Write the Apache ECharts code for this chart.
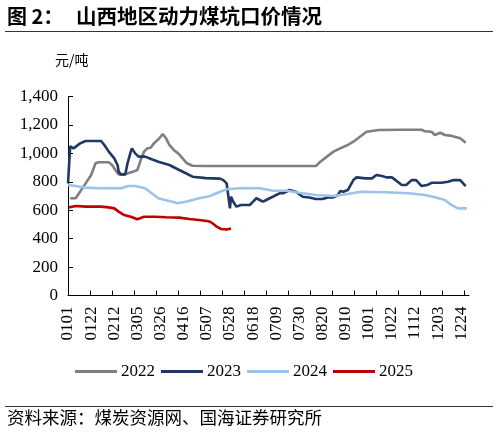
<!DOCTYPE html>
<html>
<head>
<meta charset="utf-8">
<script src="https://cdn.jsdelivr.net/npm/echarts@6/dist/echarts.min.js"></script>
<style>
  html, body { margin: 0; padding: 0; background: #fff; }
  #chart { width: 499px; height: 434px; }
</style>
</head>
<body>
<div id="chart"></div>
<script>
// daily categories MMDD (non-leap year)
let days = [];
for (let t = new Date(2023, 0, 1); t.getFullYear() === 2023; t.setDate(t.getDate() + 1)) {
    let mm = String(t.getMonth() + 1).padStart(2, '0');
    let dd = String(t.getDate()).padStart(2, '0');
    days.push(mm + dd);
}

let yTicks = [0, 200, 400, 600, 800, 1000, 1200, 1400];
let years = ['2022', '2023', '2024', '2025'];
let colors = ['#7f7f7f', '#1f3864', '#9dc3e6', '#c00000'];

// [date, 元/吨]
let y2022 = [
    ['0103', 684], ['0108', 684], ['0113', 742], ['0117', 789], ['0122', 848],
    ['0126', 930], ['0129', 937], ['0207', 937], ['0210', 918], ['0213', 883],
    ['0216', 852], ['0221', 852], ['0228', 868], ['0305', 883], ['0308', 953],
    ['0311', 1012], ['0314', 1035], ['0317', 1040], ['0320', 1070], ['0325', 1106],
    ['0328', 1136], ['0331', 1106], ['0403', 1059], ['0407', 1024], ['0411', 1000],
    ['0415', 965], ['0419', 930], ['0424', 913], ['0506', 911], ['0814', 911],
    ['0818', 941], ['0824', 977], ['0830', 1012], ['0905', 1035], ['0912', 1059],
    ['0917', 1082], ['0923', 1117], ['0929', 1152], ['1010', 1164], ['1031', 1166],
    ['1118', 1166], ['1121', 1155], ['1127', 1152], ['1130', 1129], ['1205', 1145],
    ['1209', 1129], ['1214', 1125], ['1218', 1117], ['1223', 1106], ['1228', 1075]
];
let y2023 = [
    ['0101', 790], ['0103', 1050], ['0106', 1035], ['0112', 1070], ['0117', 1087],
    ['0131', 1087], ['0203', 1059], ['0207', 1012], ['0212', 965], ['0215', 918],
    ['0216', 871], ['0218', 852], ['0222', 852], ['0224', 930], ['0227', 1012],
    ['0228', 1035], ['0303', 1000], ['0306', 977], ['0312', 977], ['0318', 958],
    ['0324', 941], ['0403', 918], ['0412', 883], ['0418', 860], ['0424', 836],
    ['0506', 826], ['0519', 822], ['0522', 812], ['0525', 789], ['0526', 730],
    ['0528', 613], ['0529', 695], ['0531', 660], ['0603', 625], ['0607', 637],
    ['0615', 637], ['0618', 660], ['0621', 684], ['0624', 672], ['0627', 660],
    ['0630', 672], ['0703', 684], ['0706', 695], ['0709', 707], ['0712', 719],
    ['0715', 719], ['0718', 730], ['0721', 742], ['0727', 730], ['0802', 695],
    ['0808', 690], ['0814', 679], ['0820', 679], ['0825', 690], ['0830', 690],
    ['0903', 707], ['0905', 735], ['0908', 730], ['0912', 742], ['0917', 812],
    ['0920', 831], ['0928', 824], ['1004', 824], ['1008', 848], ['1013', 841],
    ['1017', 831], ['1022', 831], ['1026', 808], ['1031', 777], ['1104', 777],
    ['1109', 812], ['1113', 812], ['1118', 770], ['1123', 777], ['1127', 793],
    ['1206', 793], ['1212', 800], ['1217', 812], ['1223', 812], ['1228', 770]
];
let y2024 = [
    ['0101', 777], ['0108', 770], ['0117', 759], ['0129', 754], ['0218', 754],
    ['0225', 770], ['0303', 770], ['0312', 754], ['0318', 719], ['0324', 684],
    ['0330', 672], ['0406', 660], ['0410', 649], ['0418', 660], ['0424', 672],
    ['0430', 684], ['0510', 700], ['0519', 730], ['0525', 747], ['0606', 754],
    ['0624', 754], ['0706', 737], ['0719', 737], ['0730', 723], ['0814', 707],
    ['0830', 700], ['0912', 714], ['0924', 730], ['1016', 726], ['1106', 719],
    ['1121', 707], ['1130', 691], ['1209', 672], ['1215', 637], ['1221', 613],
    ['1229', 613]
];
let y2025 = [
    ['0102', 620], ['0108', 630], ['0117', 625], ['0131', 625], ['0207', 620],
    ['0212', 613], ['0216', 590], ['0221', 566], ['0227', 554], ['0305', 536],
    ['0311', 554], ['0321', 554], ['0331', 550], ['0412', 548], ['0421', 538],
    ['0430', 531], ['0507', 524], ['0510', 519], ['0513', 503], ['0516', 484],
    ['0520', 468], ['0525', 465], ['0529', 472]
];
let seriesData = [y2022, y2023, y2024, y2025];

let serif = '"Liberation Serif", "Times New Roman", serif';
let cjk = '"Noto Sans CJK SC", sans-serif';

let chart = echarts.init(document.getElementById('chart'));
chart.setOption({
    animation: false,
    backgroundColor: '#fff',
    grid: { left: 68, right: 30, top: 96.5, bottom: 138.5, containLabel: false },
    legend: {
        left: 70,
        top: 358,
        itemWidth: 42,
        itemHeight: 3,
        itemGap: 6,
        icon: 'rect',
        textStyle: { fontFamily: serif, fontSize: 17, color: '#000', padding: [0, 0, 0, -1] },
        data: years
    },
    xAxis: {
        type: 'category',
        data: days,
        boundaryGap: false,
        axisLine: { lineStyle: { color: '#000', width: 1 } },
        axisTick: { inside: true, length: 5, interval: 19, lineStyle: { color: '#000' } },
        axisLabel: {
            interval: 20,
            rotate: 90,
            margin: 11,
            fontFamily: serif,
            fontSize: 17,
            color: '#000'
        },
        splitLine: { show: false }
    },
    yAxis: {
        type: 'value',
        min: yTicks[0],
        max: yTicks[yTicks.length - 1],
        interval: 200,
        axisLine: { show: true, lineStyle: { color: '#000', width: 1 } },
        axisTick: { show: true, inside: true, length: 5, lineStyle: { color: '#000' } },
        axisLabel: {
            margin: 10,
            fontFamily: serif,
            fontSize: 17,
            color: '#000',
            formatter: v => v.toLocaleString('en-US')
        },
        splitLine: { show: false }
    },
    series: years.map((name, i) => ({
        name: name,
        type: 'line',
        data: seriesData[i],
        symbol: 'none',
        color: colors[i],
        lineStyle: { width: 2.6, color: colors[i] }
    })),
    graphic: [
        { type: 'text', left: 7, top: 6, style: { text: '图 2：', font: 'bold 20px ' + cjk, fill: '#000' } },
        { type: 'text', left: 76, top: 6, style: { text: '山西地区动力煤坑口价情况', font: 'bold 20.5px ' + cjk, fill: '#000' } },
        { type: 'line', shape: { x1: 5, y1: 31.5, x2: 493, y2: 31.5 }, style: { stroke: '#333', lineWidth: 1 } },
        { type: 'text', left: 55, top: 53, style: { text: '元/吨', font: '14px ' + cjk, fill: '#000' } },
        { type: 'line', shape: { x1: 5, y1: 406.5, x2: 493, y2: 406.5 }, style: { stroke: '#333', lineWidth: 1 } },
        { type: 'text', left: 7, top: 409, style: { text: '资料来源：煤炭资源网、国海证券研究所', font: '17.5px ' + cjk, fill: '#000' } }
    ]
});
</script>
</body>
</html>
